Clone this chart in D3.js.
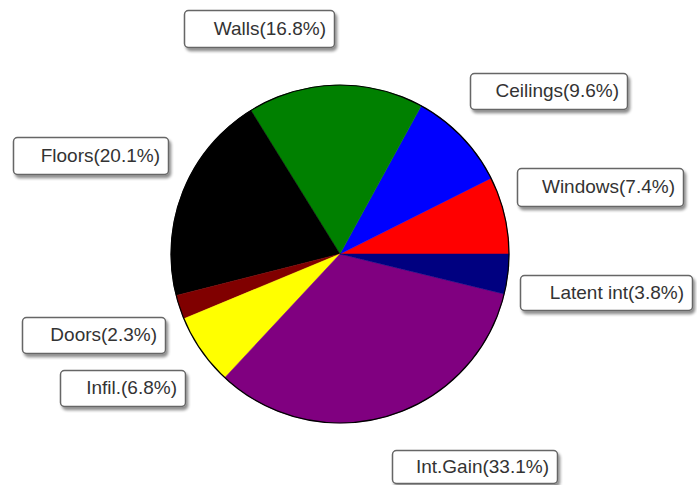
<!DOCTYPE html>
<html><head><meta charset="utf-8">
<script src="https://cdn.jsdelivr.net/npm/d3@7"></script>
<style>html,body{margin:0;padding:0;background:#fff;}</style>
</head><body>
<svg id="chart" width="697" height="485"></svg>
<script>
const categories = ["Windows","Ceilings","Walls","Floors","Doors","Infil.","Int.Gain","Latent int"];
const values = [7.4, 9.6, 16.8, 20.1, 2.3, 6.8, 33.1, 3.8];
const colors = ["#ff0000","#0000ff","#008000","#000000","#800000","#ffff00","#800080","#000080"];
const labelText = ["Windows(7.4%)","Ceilings(9.6%)","Walls(16.8%)","Floors(20.1%)","Doors(2.3%)","Infil.(6.8%)","Int.Gain(33.1%)","Latent int(3.8%)"];

// layout of label boxes (x, y, w, h)
const boxLayout = [
  [517,168,166,38],[470,73,157,36],[184,10,150,37],[13,137,155,37],
  [22,317,143,36],[60,370,125,36],[392,450,165,33],[520,275,172,35]
];

const svg = d3.select("#chart");
const cx = 340, cy = 254, r = 169;

const defs = svg.append("defs");
const f = defs.append("filter").attr("id","sh").attr("x","-10%").attr("y","-20%").attr("width","130%").attr("height","160%");
f.append("feGaussianBlur").attr("in","SourceAlpha").attr("stdDeviation",1.5);
f.append("feOffset").attr("dx",2).attr("dy",3).attr("result","ob");
f.append("feComponentTransfer").append("feFuncA").attr("type","linear").attr("slope",0.45);
const m = f.append("feMerge"); m.append("feMergeNode"); m.append("feMergeNode").attr("in","SourceGraphic");

const pie = d3.pie().sort(null).value(d => d)
  .startAngle(Math.PI/2).endAngle(Math.PI/2 - 2*Math.PI);
const arc = d3.arc().innerRadius(0).outerRadius(r);

const g = svg.append("g").attr("transform",`translate(${cx},${cy})`);
g.selectAll("path").data(pie(values)).join("path")
  .attr("d", arc).attr("fill",(d,i)=>colors[i]).attr("stroke",(d,i)=>colors[i]).attr("stroke-width",0.5);
g.append("circle").attr("r",r).attr("fill","none").attr("stroke","#000").attr("stroke-width",1.2);

const lg = svg.append("g");
categories.forEach((c,i)=>{
  const [x,y,w,h] = boxLayout[i];
  lg.append("rect").attr("x",x+0.5).attr("y",y+0.5).attr("width",w).attr("height",h)
    .attr("rx",4).attr("fill","#fff").attr("stroke","#666").attr("stroke-width",1.5)
    .attr("filter","url(#sh)");
  lg.append("text").attr("x",x+w-8).attr("y",y+h/2+1).attr("text-anchor","end")
    .attr("dominant-baseline","middle")
    .attr("font-family","Liberation Sans, Arial, sans-serif").attr("font-size",19)
    .attr("fill","#333").text(labelText[i]);
});
</script>
</body></html>
